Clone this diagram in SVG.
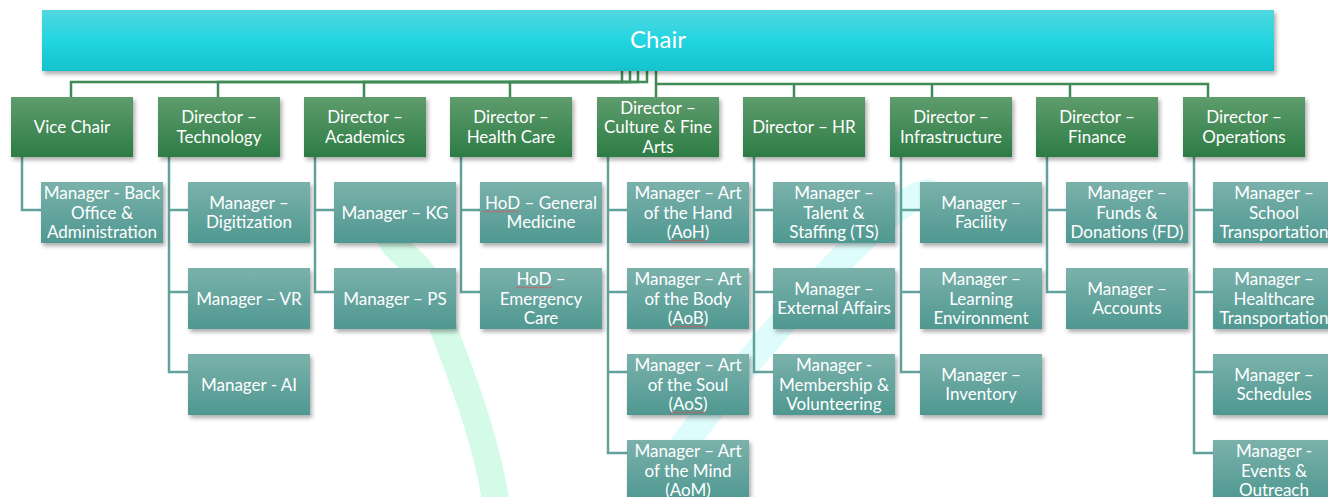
<svg xmlns="http://www.w3.org/2000/svg" xmlns:xlink="http://www.w3.org/1999/xlink" width="1328" height="497" viewBox="0 0 1328 497">
<defs>
<linearGradient id="gChair" x1="0" y1="0" x2="0" y2="1"><stop offset="0" stop-color="#52d7df"/><stop offset="0.5" stop-color="#22d5e0"/><stop offset="1" stop-color="#13c3cd"/></linearGradient>
<linearGradient id="gDir" x1="0" y1="0" x2="0" y2="1"><stop offset="0" stop-color="#5f9c6d"/><stop offset="1" stop-color="#2d7c45"/></linearGradient>
<linearGradient id="gMgr" x1="0" y1="0" x2="0" y2="1"><stop offset="0" stop-color="#7bb1ab"/><stop offset="1" stop-color="#4f9891"/></linearGradient>
<filter id="sh" x="-10%" y="-10%" width="125%" height="140%"><feDropShadow dx="2" dy="3" stdDeviation="2" flood-color="#000" flood-opacity="0.33"/></filter>
<path id="sq" d="M0 0 q1 1.3 2 0 t2 0 t2 0 t2 0 t2 0 t2 0 t2 0 t2 0 t2 0 t2 0 t2 0 t2 0 t2 0 t2 0 t2 0 t2 0 t2 0 t2 0" fill="none" stroke="#d4585a" stroke-width="0.9"/>
<style>
.chair{fill:url(#gChair);filter:url(#sh)}
.dir{fill:url(#gDir);filter:url(#sh)}
.mgr{fill:url(#gMgr);filter:url(#sh)}
.t{fill:#ffffff;font-family:Lato,"Open Sans",sans-serif;font-size:17px;text-anchor:middle}
.tc{fill:#ffffff;font-family:Lato,"Open Sans",sans-serif;font-size:24px;text-anchor:middle}
.top{fill:none;stroke:#3f8a55;stroke-width:2.5}
.sub{fill:none;stroke:#62a29c;stroke-width:2.5}
.swm{fill:none;stroke:#d3fbe8;stroke-width:27;stroke-linecap:round}
.swc{fill:none;stroke:#defcfc;stroke-width:27;stroke-linecap:round}
</style>
</defs>
<rect x="0" y="0" width="1328" height="497" fill="#ffffff"/>
<g id="background">
<path class="swm" d="M389 228 C389 255 420 255 430 290 C445 340 485 420 498 515"/>
<path class="swc" d="M928 192 C900 200 870 232 845 256 C800 300 720 390 640 505"/>
</g>
<g id="connectors">
<path class="top" d="M622 71 V82 H71 V97"/>
<path class="top" d="M630 71 V82 H218 V97"/>
<path class="top" d="M638 71 V82 H364 V97"/>
<path class="top" d="M647 71 V82 H510 V97"/>
<path class="top" d="M656 71 V97"/>
<path class="top" d="M656 84 H1208 V97"/>
<path class="top" d="M794 84 V97"/>
<path class="top" d="M932 84 V97"/>
<path class="top" d="M1070 84 V97"/>
<path class="sub" d="M22 157 V210 H41"/>
<path class="sub" d="M169 157 V372 H188 M169 210 H188 M169 292 H188"/>
<path class="sub" d="M315 157 V292 H334 M315 210 H334"/>
<path class="sub" d="M461 157 V292 H480 M461 210 H480"/>
<path class="sub" d="M608 157 V453 H627 M608 210 H627 M608 292 H627 M608 372 H627"/>
<path class="sub" d="M754 157 V372 H773 M754 210 H773 M754 292 H773"/>
<path class="sub" d="M901 157 V372 H920 M901 210 H920 M901 292 H920"/>
<path class="sub" d="M1047 157 V292 H1066 M1047 210 H1066"/>
<path class="sub" d="M1194 157 V453 H1213 M1194 210 H1213 M1194 292 H1213 M1194 372 H1213"/>
</g>
<g id="chair"><rect class="chair" x="42" y="10" width="1232" height="61"/><text class="tc" x="658" y="48">Chair</text></g>
<g id="vice-chair"><rect class="dir" x="11" y="97" width="122" height="60"/><text class="t" x="72" y="133">Vice Chair</text></g>
<g id="dir-technology"><rect class="dir" x="158" y="97" width="122" height="60"/><text class="t" x="219" y="123">Director –</text><text class="t" x="219" y="143">Technology</text></g>
<g id="dir-academics"><rect class="dir" x="304" y="97" width="122" height="60"/><text class="t" x="365" y="123">Director –</text><text class="t" x="365" y="143">Academics</text></g>
<g id="dir-healthcare"><rect class="dir" x="450" y="97" width="122" height="60"/><text class="t" x="511" y="123">Director –</text><text class="t" x="511" y="143">Health Care</text></g>
<g id="dir-culture"><rect class="dir" x="597" y="97" width="122" height="60"/><text class="t" x="658" y="113.5">Director –</text><text class="t" x="658" y="133">Culture &amp; Fine</text><text class="t" x="658" y="152.5">Arts</text></g>
<g id="dir-hr"><rect class="dir" x="743" y="97" width="122" height="60"/><text class="t" x="804" y="133">Director – HR</text></g>
<g id="dir-infrastructure"><rect class="dir" x="890" y="97" width="122" height="60"/><text class="t" x="951" y="123">Director –</text><text class="t" x="951" y="143">Infrastructure</text></g>
<g id="dir-finance"><rect class="dir" x="1036" y="97" width="122" height="60"/><text class="t" x="1097" y="123">Director –</text><text class="t" x="1097" y="143">Finance</text></g>
<g id="dir-operations"><rect class="dir" x="1183" y="97" width="122" height="60"/><text class="t" x="1244" y="123">Director –</text><text class="t" x="1244" y="143">Operations</text></g>

<g id="mgr-backoffice"><rect class="mgr" x="41" y="182" width="122" height="61"/><text class="t" x="102" y="199">Manager - Back</text><text class="t" x="102" y="218.5">Office &amp;</text><text class="t" x="102" y="238">Administration</text></g>

<g id="mgr-digitization"><rect class="mgr" x="188" y="182" width="122" height="61"/><text class="t" x="249" y="208.75">Manager –</text><text class="t" x="249" y="228.25">Digitization</text></g>
<g id="mgr-vr"><rect class="mgr" x="188" y="268" width="122" height="61"/><text class="t" x="249" y="304.5">Manager – VR</text></g>
<g id="mgr-ai"><rect class="mgr" x="188" y="354" width="122" height="61"/><text class="t" x="249" y="390.5">Manager - AI</text></g>

<g id="mgr-kg"><rect class="mgr" x="334" y="182" width="122" height="61"/><text class="t" x="395" y="218.5">Manager – KG</text></g>
<g id="mgr-ps"><rect class="mgr" x="334" y="268" width="122" height="61"/><text class="t" x="395" y="304.5">Manager – PS</text></g>

<g id="hod-general"><rect class="mgr" x="480" y="182" width="122" height="61"/><text class="t" x="541" y="208.75">HoD – General</text><text class="t" x="541" y="228.25">Medicine</text><use href="#sq" x="483" y="211.5"/></g>
<g id="hod-emergency"><rect class="mgr" x="480" y="268" width="122" height="61"/><text class="t" x="541" y="285">HoD –</text><text class="t" x="541" y="304.5">Emergency</text><text class="t" x="541" y="324">Care</text><use href="#sq" x="516" y="287.5"/></g>

<g id="mgr-aoh"><rect class="mgr" x="627" y="182" width="122" height="61"/><text class="t" x="688" y="199">Manager – Art</text><text class="t" x="688" y="218.5">of the Hand</text><text class="t" x="688" y="238">(AoH)</text><use href="#sq" x="670" y="240.5"/></g>
<g id="mgr-aob"><rect class="mgr" x="627" y="268" width="122" height="61"/><text class="t" x="688" y="285">Manager – Art</text><text class="t" x="688" y="304.5">of the Body</text><text class="t" x="688" y="324">(AoB)</text><use href="#sq" x="670" y="326.5"/></g>
<g id="mgr-aos"><rect class="mgr" x="627" y="354" width="122" height="61"/><text class="t" x="688" y="371">Manager – Art</text><text class="t" x="688" y="390.5">of the Soul</text><text class="t" x="688" y="410">(AoS)</text><use href="#sq" x="670" y="412.5"/></g>
<g id="mgr-aom"><rect class="mgr" x="627" y="440" width="122" height="61"/><text class="t" x="688" y="457">Manager – Art</text><text class="t" x="688" y="476.5">of the Mind</text><text class="t" x="688" y="496">(AoM)</text></g>

<g id="mgr-talent"><rect class="mgr" x="773" y="182" width="122" height="61"/><text class="t" x="834" y="199">Manager –</text><text class="t" x="834" y="218.5">Talent &amp;</text><text class="t" x="834" y="238">Staffing (TS)</text></g>
<g id="mgr-external"><rect class="mgr" x="773" y="268" width="122" height="61"/><text class="t" x="834" y="294.75">Manager –</text><text class="t" x="834" y="314.25">External Affairs</text></g>
<g id="mgr-membership"><rect class="mgr" x="773" y="354" width="122" height="61"/><text class="t" x="834" y="371">Manager -</text><text class="t" x="834" y="390.5">Membership &amp;</text><text class="t" x="834" y="410">Volunteering</text></g>

<g id="mgr-facility"><rect class="mgr" x="920" y="182" width="122" height="61"/><text class="t" x="981" y="208.75">Manager –</text><text class="t" x="981" y="228.25">Facility</text></g>
<g id="mgr-learning"><rect class="mgr" x="920" y="268" width="122" height="61"/><text class="t" x="981" y="285">Manager –</text><text class="t" x="981" y="304.5">Learning</text><text class="t" x="981" y="324">Environment</text></g>
<g id="mgr-inventory"><rect class="mgr" x="920" y="354" width="122" height="61"/><text class="t" x="981" y="380.75">Manager –</text><text class="t" x="981" y="400.25">Inventory</text></g>

<g id="mgr-funds"><rect class="mgr" x="1066" y="182" width="122" height="61"/><text class="t" x="1127" y="199">Manager –</text><text class="t" x="1127" y="218.5">Funds &amp;</text><text class="t" x="1127" y="238">Donations (FD)</text></g>
<g id="mgr-accounts"><rect class="mgr" x="1066" y="268" width="122" height="61"/><text class="t" x="1127" y="294.75">Manager –</text><text class="t" x="1127" y="314.25">Accounts</text></g>

<g id="mgr-school-transport"><rect class="mgr" x="1213" y="182" width="122" height="61"/><text class="t" x="1274" y="199">Manager –</text><text class="t" x="1274" y="218.5">School</text><text class="t" x="1274" y="238">Transportation</text></g>
<g id="mgr-health-transport"><rect class="mgr" x="1213" y="268" width="122" height="61"/><text class="t" x="1274" y="285">Manager –</text><text class="t" x="1274" y="304.5">Healthcare</text><text class="t" x="1274" y="324">Transportation</text></g>
<g id="mgr-schedules"><rect class="mgr" x="1213" y="354" width="122" height="61"/><text class="t" x="1274" y="380.75">Manager –</text><text class="t" x="1274" y="400.25">Schedules</text></g>
<g id="mgr-events"><rect class="mgr" x="1213" y="440" width="122" height="61"/><text class="t" x="1274" y="457">Manager -</text><text class="t" x="1274" y="476.5">Events &amp;</text><text class="t" x="1274" y="496">Outreach</text></g>
</svg>
